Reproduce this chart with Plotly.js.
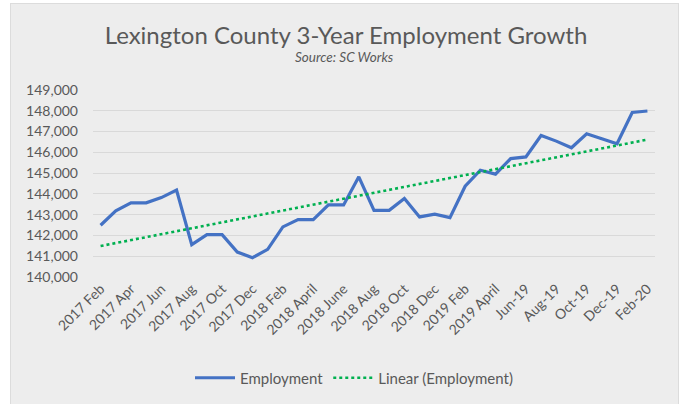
<!DOCTYPE html>
<html>
<head>
<meta charset="utf-8">
<script src="https://cdn.plot.ly/plotly-3.0.1.min.js"></script>
<style>
html,body{margin:0;padding:0;background:#FFFFFF;}
#wrap{position:relative;width:680px;height:404px;}
#box{position:absolute;left:10px;top:3px;width:667px;height:401px;background:#EDEDED;border-left:1px solid #DCDCDC;border-top:1px solid #DCDCDC;border-right:1px solid #DCDCDC;}
#chart{position:absolute;left:0;top:0;width:680px;height:404px;}
</style>
</head>
<body>
<div id="wrap"><div id="box"></div><div id="chart"></div></div>
<script>
const months = [
  "2017 Feb","2017 Mar","2017 Apr","2017 May","2017 Jun","2017 Jul","2017 Aug","2017 Sep","2017 Oct","2017 Nov","2017 Dec","2018 Jan",
  "2018 Feb","2018 Mar","2018 April","2018 May","2018 June","2018 July","2018 Aug","2018 Sep","2018 Oct","2018 Nov","2018 Dec","2019 Jan",
  "2019 Feb","2019 Mar","2019 April","2019 May","Jun-19","Jul-19","Aug-19","Sep-19","Oct-19","Nov-19","Dec-19","Jan-20","Feb-20"
];
const tickLabels = ["2017 Feb","2017 Apr","2017 Jun","2017 Aug","2017 Oct","2017 Dec","2018 Feb","2018 April","2018 June","2018 Aug","2018 Oct","2018 Dec","2019 Feb","2019 April","Jun-19","Aug-19","Oct-19","Dec-19","Feb-20"];
const employment = [
  142490,143180,143570,143570,143820,144180,141560,142040,142040,141200,140930,141330,
  142410,142760,142760,143470,143470,144820,143210,143210,143780,142890,143020,142860,
  144370,145140,144950,145700,145780,146810,146540,146220,146890,146640,146410,147920,147990
];

// Linear trendline (least squares over the series)
const n = employment.length;
let sx=0, sy=0, sxy=0, sxx=0;
employment.forEach((v,i)=>{sx+=i; sy+=v; sxy+=i*v; sxx+=i*i;});
const slope = (n*sxy - sx*sy)/(n*sxx - sx*sx);
const intercept = (sy - slope*sx)/n;
const trend = employment.map((v,i)=>intercept + slope*i);

const txt = '#595959';
const fam = 'Lato, "Open Sans", sans-serif';
const data = [
  {x: months, y: employment, type:'scatter', mode:'lines', name:'Employment',
   line:{color:'#4472C4', width:3.2}},
  {x: months, y: trend, type:'scatter', mode:'lines', name:'Linear (Employment)',
   line:{color:'#00B050', width:2.6, dash:'dot'}}
];
const layout = {
  width:680, height:404,
  paper_bgcolor:'rgba(0,0,0,0)', plot_bgcolor:'rgba(0,0,0,0)',
  margin:{l:93, r:25, t:90, b:127},
  font:{family:fam, color:txt, size:14},
  title:{text:'Lexington County 3-Year Employment Growth', x:(346/680), xref:'container', xanchor:'center',
         y:1-36/404, yref:'container', yanchor:'middle',
         font:{size:24, color:txt, family:fam}},
  annotations:[{text:'<i>Source: SC Works</i>', xref:'paper', yref:'paper', x:(344-93)/562, y:(277-57)/187,
    showarrow:false, xanchor:'center', yanchor:'middle', font:{size:13.5, color:txt, family:fam}}],
  xaxis:{type:'category', categoryorder:'array', categoryarray:months, range:[-0.5, 36.5],
    tickmode:'array', tickvals:tickLabels, ticktext:tickLabels, tickangle:-45,
    showgrid:false, zeroline:false, showline:false, ticks:'', tickfont:{size:14, color:txt}},
  yaxis:{range:[140000,149000], tickmode:'linear', tick0:140000, dtick:1000, tickformat:',d',
    showgrid:true, gridcolor:'#D9D9D9', gridwidth:1, zeroline:false, showline:false, ticks:'',
    ticklabelstandoff:14, tickfont:{size:14, color:txt}},
  showlegend:true,
  legend:{orientation:'h', x:(354-93)/562, xanchor:'center', y:1-378/404, yref:'container', yanchor:'middle',
    font:{size:15, color:txt, family:fam}, bgcolor:'rgba(0,0,0,0)', itemwidth:40, tracegroupgap:0}
};
Plotly.newPlot('chart', data, layout, {displayModeBar:false, staticPlot:true});
</script>
</body>
</html>
